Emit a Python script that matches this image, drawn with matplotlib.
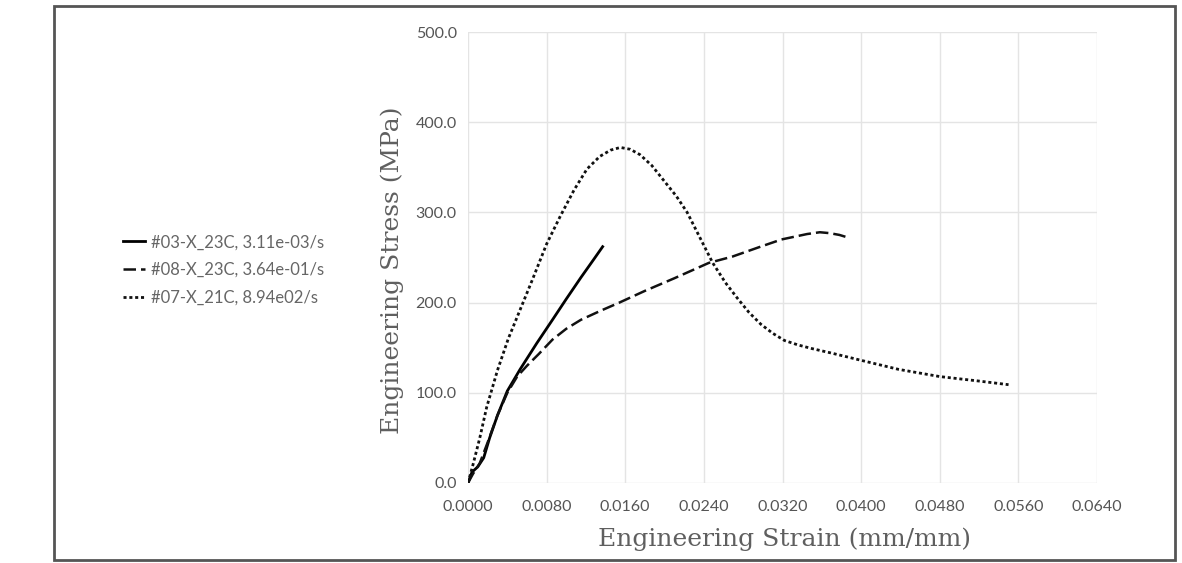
import matplotlib
matplotlib.use("Agg")
import matplotlib.pyplot as plt
from matplotlib.patches import Rectangle
from matplotlib.ticker import FormatStrFormatter, MultipleLocator

# ---- data ----
labels = ["#03-X_23C, 3.11e-03/s", "#08-X_23C, 3.64e-01/s", "#07-X_21C, 8.94e02/s"]

s03_strain = [0, 0.0004, 0.0010, 0.0016, 0.0022, 0.0030, 0.0040, 0.0053, 0.0070,
              0.0086, 0.0100, 0.0115, 0.0128, 0.0137]
s03_stress = [0, 12, 18, 28, 50, 75, 102, 126, 155, 181, 204, 228, 248, 262]

s08_strain = [0, 0.0005, 0.0012, 0.0020, 0.0030, 0.0040, 0.0050, 0.0060, 0.0072,
              0.0086, 0.0100, 0.0115, 0.0135, 0.0154, 0.0180, 0.0210, 0.0245,
              0.0269, 0.0295, 0.0319, 0.0345, 0.0358, 0.0368, 0.0378, 0.0387]
s08_stress = [0, 10, 22, 45, 75, 100, 118, 130, 143, 159, 171, 181, 191, 200, 213,
              227, 244, 251, 261, 270, 276, 278, 277, 275, 272]

s07_strain = [0, 0.0005, 0.0012, 0.0019, 0.0030, 0.0041, 0.0053, 0.0065, 0.0080,
              0.0094, 0.0108, 0.0121, 0.0134, 0.0145, 0.0155, 0.0165, 0.0175,
              0.0187, 0.0198, 0.0212, 0.0223, 0.0236, 0.0249, 0.0262, 0.0274,
              0.0286, 0.0298, 0.0310, 0.0322, 0.0336, 0.0350, 0.0370, 0.0400,
              0.0438, 0.0480, 0.0520, 0.0550]
s07_stress = [0, 20, 50, 84, 125, 160, 192, 224, 265, 296, 325, 348, 362, 369, 372,
              370, 364, 352, 337, 318, 300, 272, 244, 222, 205, 189, 176, 166, 158,
              153, 149, 144, 136, 126, 118, 113, 109]

# ---- figure ----
fig = plt.figure(figsize=(11.82, 5.63), dpi=100)
ax = fig.add_axes([468/1182, 1-483/563, (1097-468)/1182, (483-32)/563])

ax.plot(s03_strain, s03_stress, color="black", lw=2.0, linestyle="-", label=labels[0])
ax.plot(s08_strain, s08_stress, color="#111111", lw=1.8, linestyle=(0, (5, 2)), label=labels[1])
ax.plot(s07_strain, s07_stress, color="#111111", lw=2.0, linestyle=(0, (1.1, 1.0)), label=labels[2])

ax.set_xlim(0, 0.064)
ax.set_ylim(0, 500)
ax.xaxis.set_major_locator(MultipleLocator(0.008))
ax.yaxis.set_major_locator(MultipleLocator(100))
ax.xaxis.set_major_formatter(FormatStrFormatter("%.4f"))
ax.yaxis.set_major_formatter(FormatStrFormatter("%.1f"))
ax.grid(True, color="#e4e4e4", lw=1.0)
ax.set_axisbelow(True)
for sp in ax.spines.values():
    sp.set_visible(False)
ax.tick_params(length=0, labelsize=11.5, colors="#555555")
ax.tick_params(axis="x", pad=12)
ax.tick_params(axis="y", pad=8)
for t in ax.get_xticklabels() + ax.get_yticklabels():
    t.set_family("Lato")

ax.set_xlabel("Engineering Strain (mm/mm)", family="DejaVu Serif", fontsize=18,
              color="#5f5f5f")
ax.set_ylabel("Engineering Stress (MPa)", family="DejaVu Serif", fontsize=18,
              color="#5f5f5f")
ax.xaxis.set_label_coords((785-468)/629, (483-527)/451)
ax.yaxis.set_label_coords((404-468)/629, (483-270)/451)

leg = fig.legend(loc="center left", bbox_to_anchor=(108/1182, 1-270/563), frameon=False,
                 prop={"family": "Lato", "size": 12}, handlelength=1.3,
                 labelspacing=0.7, handletextpad=0.4)
for t in leg.get_texts():
    t.set_color("#666666")

fig.patches.append(Rectangle((54/1182, 1-560/563), (1175-54)/1182, (560-6)/563,
                             transform=fig.transFigure, fill=False,
                             edgecolor="#555555", lw=2))

fig.savefig("out.png", dpi=100)
